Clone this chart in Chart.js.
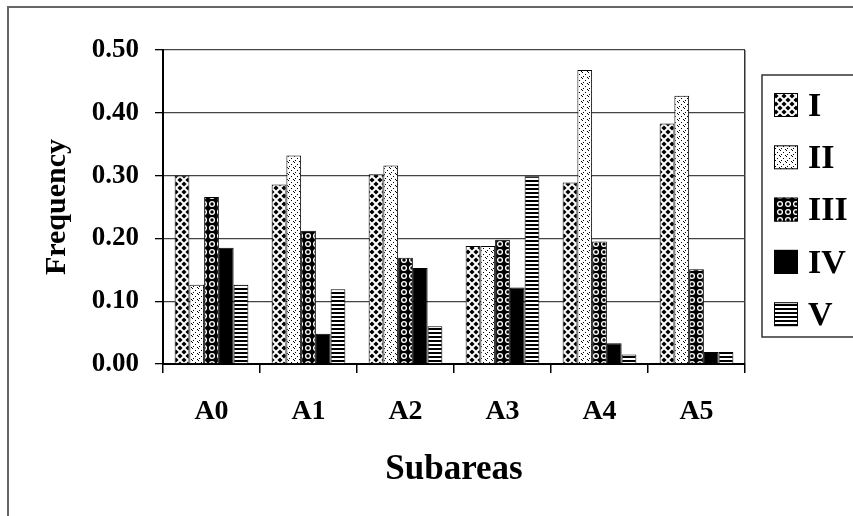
<!DOCTYPE html>
<html>
<head>
<meta charset="utf-8">
<script src="https://cdn.jsdelivr.net/npm/chart.js@4.4.1/dist/chart.umd.min.js"></script>
<style>
  body { margin: 0; background: #fff; }
</style>
</head>
<body>
<canvas id="myChart" width="853" height="516"></canvas>
<script>
// Data
const subareas = ['A0', 'A1', 'A2', 'A3', 'A4', 'A5'];
const seriesNames = ['I', 'II', 'III', 'IV', 'V'];
const freqI   = [0.300, 0.286, 0.302, 0.188, 0.289, 0.383];
const freqII  = [0.126, 0.332, 0.316, 0.188, 0.468, 0.427];
const freqIII = [0.266, 0.212, 0.169, 0.198, 0.195, 0.151];
const freqIV  = [0.185, 0.048, 0.153, 0.122, 0.033, 0.019];
const freqV   = [0.126, 0.119, 0.060, 0.299, 0.015, 0.019];
const yTicks = [0, 0.1, 0.2, 0.3, 0.4, 0.5];

const serif = "'Liberation Serif', 'Times New Roman', serif";

// small tile patterns, like the old black & white fills
function makePattern(w, h, draw) {
    const cv = document.createElement('canvas');
    cv.width = w; cv.height = h;
    const c = cv.getContext('2d');
    draw(c);
    return document.getElementById('myChart').getContext('2d').createPattern(cv, 'repeat');
}

function diamond(c, x, y, r) {
    c.beginPath();
    c.moveTo(x, y - r); c.lineTo(x + r, y); c.lineTo(x, y + r); c.lineTo(x - r, y);
    c.closePath(); c.fill();
}

const patI = makePattern(8, 8, c => {
    c.fillStyle = '#fff'; c.fillRect(0, 0, 8, 8);
    c.fillStyle = '#000';
    diamond(c, 4, 4, 2.6);
    [[0, 0], [8, 0], [0, 8], [8, 8]].forEach(p => diamond(c, p[0], p[1], 2.6));
});
const patII = makePattern(6, 6, c => {
    c.fillStyle = '#fff'; c.fillRect(0, 0, 6, 6);
    c.fillStyle = '#000';
    c.fillRect(0, 0, 1, 1); c.fillRect(3, 2, 1, 1); c.fillRect(1, 4, 1, 1); c.fillRect(5, 5, 1, 1);
});
const patIII = makePattern(8, 8, c => {
    c.fillStyle = '#000'; c.fillRect(0, 0, 8, 8);
    c.strokeStyle = '#fff'; c.lineWidth = 1.3;
    c.beginPath(); c.arc(4, 4, 2.4, 0, Math.PI * 2); c.stroke();
});
const patIV = '#000';
const patV = makePattern(4, 4, c => {
    c.fillStyle = '#fff'; c.fillRect(0, 0, 4, 4);
    c.fillStyle = '#000'; c.fillRect(0, 0, 4, 2);
});

const seriesValues = [freqI, freqII, freqIII, freqIV, freqV];
const fills = [patI, patII, patIII, patIV, patV];

// outer frame of the figure (cut off at right and bottom)
const frame = {
    id: 'frame',
    beforeDraw(chart) {
        const c = chart.ctx;
        c.save();
        c.fillStyle = '#fff';
        c.fillRect(0, 0, chart.width, chart.height);
        c.strokeStyle = '#666';
        c.lineWidth = 2;
        c.strokeRect(8, 7, 900, 600);
        c.restore();
    }
};

// boxed legend on the right
const legendBox = {
    id: 'legendBox',
    afterDraw(chart) {
        const c = chart.ctx;
        c.save();
        c.strokeStyle = '#333';
        c.lineWidth = 1.5;
        c.strokeRect(762, 75, 120, 262);
        chart.data.datasets.forEach((ds, i) => {
            const cy = 105 + i * 52.3;
            c.fillStyle = ds.backgroundColor;
            c.fillRect(774, cy - 12, 24, 24);
            c.strokeStyle = '#000';
            c.lineWidth = 1;
            c.strokeRect(774.5, cy - 11.5, 23, 23);
            c.fillStyle = '#000';
            c.font = 'bold 34px ' + serif;
            c.textBaseline = 'middle';
            c.fillText(ds.label, 808, cy + 2);
        });
        c.restore();
    }
};

const data = {
    labels: subareas,
    datasets: seriesNames.map((name, i) => ({
        label: name,
        data: seriesValues[i],
        backgroundColor: fills[i],
        borderColor: '#000',
        borderWidth: 1,
        categoryPercentage: 0.76,
        barPercentage: 1
    }))
};

const config = {
    type: 'bar',
    data: data,
    options: {
        responsive: false,
        animation: false,
        devicePixelRatio: 1,
        layout: { padding: { left: 0, right: 108, top: 50, bottom: 0 } },
        plugins: {
            legend: { display: false },
            tooltip: { enabled: false }
        },
        scales: {
            x: {
                grid: {
                    offset: true,
                    color: ctx => (ctx.index === undefined ? '#333' : 'rgba(0,0,0,0)'),
                    tickColor: '#000',
                    tickLength: 9,
                    lineWidth: 1.5
                },
                border: { color: '#000', width: 2 },
                ticks: {
                    color: '#000',
                    padding: 22,
                    font: { family: serif, size: 28, weight: 'bold' }
                },
                title: {
                    display: true,
                    text: 'Subareas',
                    color: '#000',
                    font: { family: serif, size: 35, weight: 'bold' },
                    padding: { top: 0, bottom: 25 }
                },
                afterFit: axis => { axis.height = 152; }
            },
            y: {
                min: 0,
                max: 0.5,
                afterBuildTicks: axis => { axis.ticks = yTicks.map(v => ({ value: v })); },
                grid: { color: '#444', lineWidth: 1.3, tickColor: '#000', tickLength: 8 },
                border: { color: '#000', width: 2 },
                ticks: {
                    color: '#000',
                    padding: 16,
                    font: { family: serif, size: 27, weight: 'bold' },
                    callback: v => Number(v).toFixed(2)
                },
                title: {
                    display: true,
                    text: 'Frequency',
                    color: '#000',
                    font: { family: serif, size: 30, weight: 'bold' },
                    padding: { top: 39, bottom: 0 }
                },
                afterFit: axis => { axis.width = 163; }
            }
        }
    },
    plugins: [frame, legendBox]
};

const myChart = new Chart(document.getElementById('myChart'), config);
</script>
</body>
</html>
